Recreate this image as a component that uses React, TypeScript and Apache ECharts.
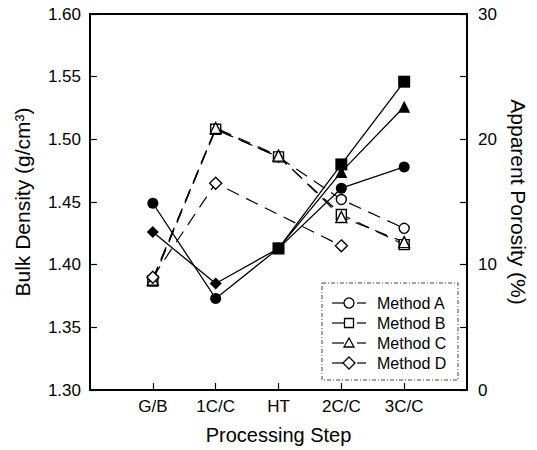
import React, { useEffect, useRef } from "react";
import * as echarts from "echarts";

const categories = ["G/B", "1C/C", "HT", "2C/C", "3C/C"];
const methods = ["Method A", "Method B", "Method C", "Method D"];
const symbols = ["circle", "rect", "triangle", "diamond"];

const densityA = [1.449, 1.373, 1.413, 1.461, 1.478];
const densityB = [null, null, 1.413, 1.48, 1.546];
const densityC = [null, null, 1.413, 1.474, 1.526];
const densityD = [1.426, 1.385, 1.413, null, null];

const porosityA = [8.9, 20.8, 18.6, 15.2, 12.9];
const porosityB = [8.7, 20.8, 18.6, 14.0, 11.6];
const porosityC = [8.8, 20.9, 18.7, 13.8, 11.8];
const porosityD = [9.0, 16.5, null, 11.5, null];

const densityTicks = { min: 1.3, max: 1.6, interval: 0.05 };
const porosityTicks = { min: 0, max: 30, interval: 10 };

const FONT = "'Liberation Sans', Arial, Helvetica, sans-serif";

const pad = (arr: (number | null)[]) => [null, ...arr, null];

export default function App() {
  const ref = useRef<HTMLDivElement>(null);
  useEffect(() => {
    document.body.style.margin = "0";
    if (!ref.current) return;
    const chart = echarts.init(ref.current, null, { renderer: "svg" });
    const densities = [densityA, densityB, densityC, densityD];
    const porosities = [porosityA, porosityB, porosityC, porosityD];
    const xCats = ["", ...categories, ""];

    const series: any[] = [];
    porosities.forEach((arr, i) => {
      series.push({
        name: methods[i] + " porosity",
        type: "line",
        yAxisIndex: 1,
        data: pad(arr),
        connectNulls: true,
        symbol: symbols[i],
        symbolSize: i === 2 ? 11 : i === 3 ? 12 : 10,
        lineStyle: { color: "#000", width: 1.2, type: [13, 8] },
        itemStyle: { color: "#fff", borderColor: "#000", borderWidth: 1.4 },
        z: 3,
      });
    });
    // draw D, C, B first then A so circle is on top where they coincide
    [3, 2, 1, 0].forEach((i) => {
      const arr = densities[i];
      series.push({
        name: methods[i] + " density",
        type: "line",
        yAxisIndex: 0,
        data: pad(arr),
        symbol: symbols[i],
        symbolSize: i === 1 ? 12 : i === 2 ? 12 : i === 3 ? 12 : 11,
        lineStyle: { color: "#000", width: 1.3, type: "solid" },
        itemStyle: { color: "#000", borderColor: "#000", borderWidth: 0 },
        z: i === 1 ? 5 : 4,
      });
    });

    // legend drawn as graphic
    const lx = 322, ly = 283, lw = 136, lh = 97;
    const legendEls: any[] = [
      {
        type: "rect",
        shape: { x: lx, y: ly, width: lw, height: lh },
        style: { fill: "#fff", stroke: "#444", lineWidth: 1, lineDash: [4, 2, 1, 2] },
        z: 10,
      },
    ];
    methods.forEach((m, i) => {
      const cy = 303 + i * 20;
      legendEls.push({
        type: "line",
        shape: { x1: 332, y1: cy, x2: 344, y2: cy },
        style: { stroke: "#000", lineWidth: 1.2 },
        z: 11,
      });
      legendEls.push({
        type: "line",
        shape: { x1: 357, y1: cy, x2: 366, y2: cy },
        style: { stroke: "#000", lineWidth: 1.2 },
        z: 11,
      });
      const mk = { fill: "#fff", stroke: "#000", lineWidth: 1.3 };
      if (i === 0) {
        legendEls.push({ type: "circle", shape: { cx: 349, cy, r: 5 }, style: mk, z: 12 });
      } else if (i === 1) {
        legendEls.push({ type: "rect", shape: { x: 344.5, y: cy - 4.5, width: 9, height: 9 }, style: mk, z: 12 });
      } else if (i === 2) {
        legendEls.push({
          type: "polygon",
          shape: { points: [[349, cy - 5], [354, cy + 4], [344, cy + 4]] },
          style: mk,
          z: 12,
        });
      } else {
        legendEls.push({
          type: "polygon",
          shape: { points: [[349, cy - 6], [355, cy], [349, cy + 6], [343, cy]] },
          style: mk,
          z: 12,
        });
      }
      legendEls.push({
        type: "text",
        x: 377,
        y: cy,
        style: { text: m, font: `16px ${FONT}`, fill: "#000", verticalAlign: "middle", align: "left" },
        z: 12,
      });
    });

    chart.setOption({
      animation: false,
      backgroundColor: "#fff",
      textStyle: { fontFamily: FONT },
      grid: {
        left: 90,
        right: 70,
        top: 14,
        bottom: 60,
        show: true,
        borderColor: "#000",
        borderWidth: 2,
        backgroundColor: "transparent",
      },
      xAxis: {
        type: "category",
        data: xCats,
        boundaryGap: false,
        name: "Processing Step",
        nameLocation: "middle",
        nameGap: 35,
        nameTextStyle: { fontSize: 20, color: "#000", fontFamily: FONT },
        axisLine: { lineStyle: { color: "#000", width: 2 } },
        axisTick: {
          inside: true,
          length: 7,
          lineStyle: { color: "#000", width: 1.2 },
          interval: (idx: number) => idx > 0 && idx < xCats.length - 1,
        },
        axisLabel: { color: "#000", fontSize: 17, margin: 8, interval: 0, fontFamily: FONT },
        splitLine: { show: false },
      },
      yAxis: [
        {
          type: "value",
          position: "left",
          min: densityTicks.min,
          max: densityTicks.max,
          interval: densityTicks.interval,
          name: "Bulk Density (g/cm³)",
          nameLocation: "middle",
          nameGap: 57,
          nameTextStyle: { fontSize: 21, color: "#000", fontFamily: FONT },
          axisLine: { show: true, lineStyle: { color: "#000", width: 2 } },
          axisTick: { show: true, inside: true, length: 7, lineStyle: { color: "#000", width: 1.2 } },
          axisLabel: {
            color: "#000",
            fontSize: 17,
            margin: 9,
            fontFamily: FONT,
            formatter: (v: number) => v.toFixed(2),
          },
          splitLine: { show: false },
        },
        {
          type: "value",
          position: "right",
          min: porosityTicks.min,
          max: porosityTicks.max,
          interval: porosityTicks.interval,
          name: "Apparent Porosity (%)",
          nameLocation: "middle",
          nameRotate: -90,
          nameGap: 35,
          nameTextStyle: { fontSize: 21, color: "#000", fontFamily: FONT },
          axisLine: { show: true, lineStyle: { color: "#000", width: 2 } },
          axisTick: { show: true, inside: true, length: 7, lineStyle: { color: "#000", width: 1.2 } },
          minorTick: { show: true, splitNumber: 2, length: 7, lineStyle: { color: "#000", width: 1.2 } },
          axisLabel: { color: "#000", fontSize: 17, margin: 11, fontFamily: FONT },
          splitLine: { show: false },
          minorSplitLine: { show: false },
        },
      ],
      series,
      graphic: legendEls,
    });
    return () => chart.dispose();
  }, []);
  return <div ref={ref} style={{ width: 537, height: 450 }} />;
}
